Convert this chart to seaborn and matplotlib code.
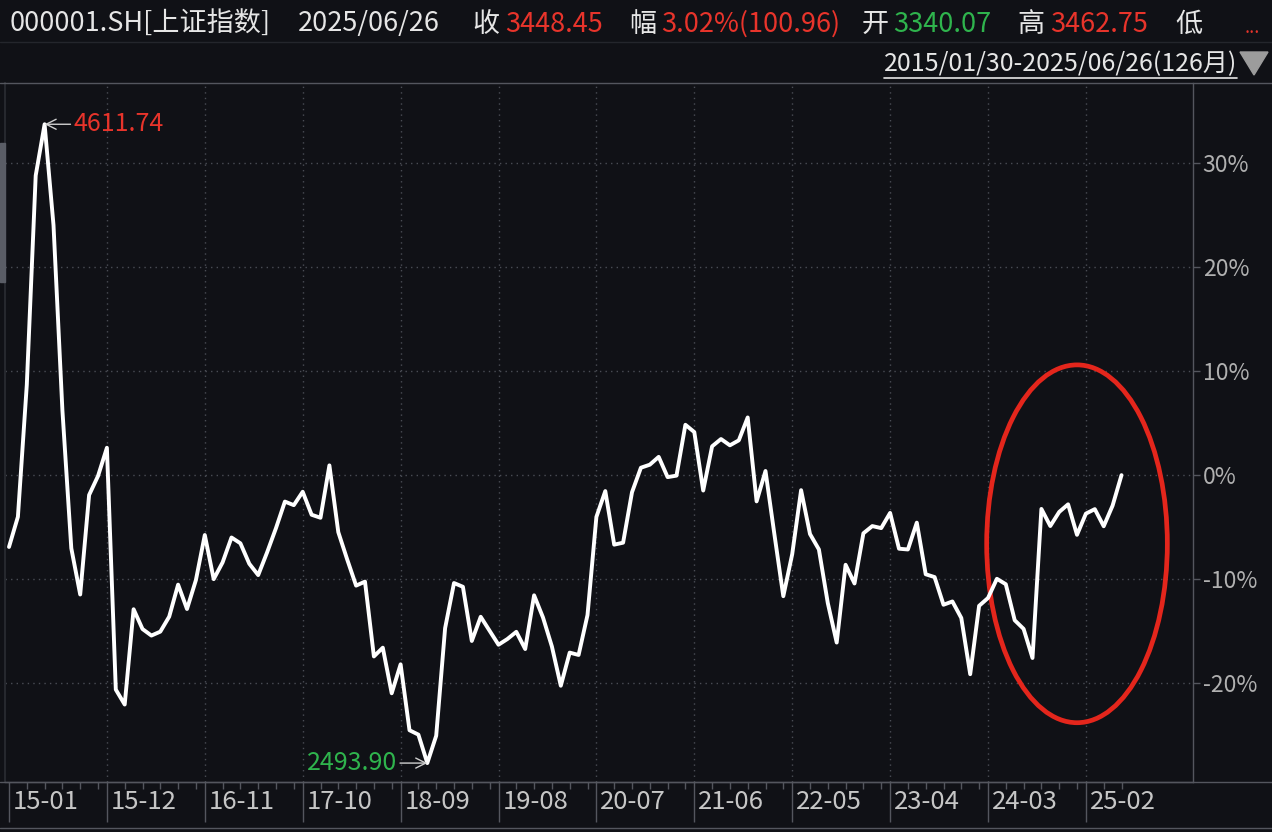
import numpy as np
import pandas as pd
import matplotlib
matplotlib.use('Agg')
import matplotlib.pyplot as plt
import seaborn as sns
from matplotlib.patches import Ellipse, Rectangle, Polygon
from matplotlib.lines import Line2D
from matplotlib.transforms import ScaledTranslation

# monthly closes of 000001.SH, 2015-01 .. 2025-06
close = [
    3210.36, 3310.30, 3747.90, 4441.66, 4611.74, 4277.22, 3663.73, 3205.99, 3052.78, 3382.56, 3445.41, 3539.18,
    2737.60, 2687.98, 3003.92, 2938.32, 2916.62, 2929.61, 2979.34, 3085.49, 3004.70, 3100.49, 3250.03, 3103.64,
    3159.17, 3241.73, 3222.51, 3154.66, 3117.18, 3192.43, 3273.03, 3360.81, 3348.94, 3393.34, 3317.19, 3307.17,
    3480.83, 3259.41, 3168.90, 3082.23, 3095.47, 2847.42, 2876.40, 2725.25, 2821.35, 2602.78, 2588.19, 2493.90,
    2584.57, 2940.95, 3090.76, 3078.34, 2898.70, 2978.88, 2932.51, 2886.24, 2905.19, 2929.06, 2871.98, 3050.12,
    2976.53, 2880.30, 2750.30, 2860.08, 2852.35, 2984.67, 3310.01, 3395.68, 3218.05, 3224.53, 3391.76, 3473.07,
    3483.07, 3509.08, 3441.91, 3446.86, 3615.48, 3591.20, 3397.36, 3543.94, 3568.17, 3547.34, 3563.89, 3639.78,
    3361.44, 3462.31, 3252.20, 3047.06, 3186.43, 3398.62, 3253.24, 3202.14, 3024.39, 2893.48, 3151.34, 3089.26,
    3255.67, 3279.61, 3272.86, 3323.27, 3204.56, 3202.06, 3291.04, 3119.88, 3110.48, 3018.77, 3029.67, 2974.93,
    2788.55, 3015.17, 3041.17, 3104.82, 3086.81, 2967.40, 2938.75, 2842.21, 3336.50, 3279.82, 3326.46, 3351.76,
    3250.60, 3320.90, 3335.75, 3279.03, 3347.49, 3448.45,
]
x_labels = ['15-01', '15-12', '16-11', '17-10', '18-09', '19-08', '20-07', '21-06',
            '22-05', '23-04', '24-03', '25-02']
y_ticks = [-20, -10, 0, 10, 20, 30]

header = [  # (text, color, x pixel)
    ('000001.SH[上证指数]', 'w', 10), ('2025/06/26', 'w', 298),
    ('收', 'w', 472), ('3448.45', 'r', 505),
    ('幅', 'w', 629), ('3.02%(100.96)', 'r', 661),
    ('开', 'w', 862), ('3340.07', 'g', 893),
    ('高', 'w', 1017), ('3462.75', 'r', 1050),
    ('低', 'w', 1175),
]
date_range = '2015/01/30-2025/06/26(126月)'

BG = '#101116'
RED = '#e8342b'
GREEN = '#2fb44d'
WHITE = '#e6e6e6'
GRID = '#4a4d55'
AXC = '#54565e'
colors = {'w': WHITE, 'r': RED, 'g': GREEN}

df = pd.DataFrame({'i': np.arange(len(close)), 'close': close})
df['pct'] = (df['close'] / close[-1] - 1) * 100

sns.set_theme(style='dark', rc={'axes.facecolor': BG, 'figure.facecolor': BG})
plt.rcParams['font.family'] = ['Noto Sans CJK SC', 'DejaVu Sans']

W, H = 1272, 832
fig = plt.figure(figsize=(W / 100, H / 100), dpi=100)
ax = fig.add_axes([5 / W, 1 - 782 / H, 1188 / W, (782 - 83) / H])

sns.lineplot(data=df, x='i', y='pct', ax=ax, color='white', linewidth=2.8)

# 9 px to first month, 8.9 px per month
ax.set_xlim(-4 / 8.9, (1193 - 9) / 8.9)
ax.set_ylim(-29.5, 37.7)

xpos = [(int(s[:2]) - 15) * 12 + int(s[3:]) - 1 for s in x_labels]
ax.set_xticks(xpos)
ax.set_xticklabels(x_labels)
ax.set_xticks([p + k for p in xpos for k in (2, 4, 6, 8, 10) if p + k < len(close)], minor=True)
ax.tick_params(axis='x', which='major', bottom=True, length=29, width=1, color=AXC,
               pad=-24, labelsize=18.5, labelcolor='#c6c6c6')
ax.tick_params(axis='x', which='minor', bottom=True, length=5, width=1, color=AXC)
for lab in ax.get_xticklabels():
    lab.set_ha('left')
    lab.set_transform(lab.get_transform() + ScaledTranslation(4 / 100, 0, fig.dpi_scale_trans))

ax.yaxis.tick_right()
ax.set_yticks(y_ticks)
ax.set_yticklabels([f'{v}%' for v in y_ticks])
ax.tick_params(axis='y', right=True, left=False, length=5, width=1, color=AXC,
               pad=2, labelsize=16.5, labelcolor='#b0b0b0')
ax.set_xlabel('')
ax.set_ylabel('')

ax.grid(True, which='major', color=GRID, linestyle=(0, (1, 3)), linewidth=1)
ax.get_xgridlines()[0].set_visible(False)
ax.spines['top'].set_visible(False)
ax.spines['left'].set_color('#26282e')
ax.spines['left'].set_linewidth(1.5)
for side in ['right', 'bottom']:
    ax.spines[side].set_color(AXC)
    ax.spines[side].set_linewidth(1)

imax = df['close'].idxmax()
imin = df['close'].idxmin()
arrow = dict(arrowstyle='->', color='#d0d0d0', lw=1, shrinkA=0, shrinkB=0)
ax.annotate(f"{df['close'][imax]:.2f}", xy=(imax, df['pct'][imax]), xytext=(21, 0),
            textcoords='offset points', color=RED, fontsize=18, ha='left', va='center',
            arrowprops=arrow)
ax.annotate(f"{df['close'][imin]:.2f}", xy=(imin, df['pct'][imin]), xytext=(-22, 0),
            textcoords='offset points', color=GREEN, fontsize=18, ha='right', va='center',
            arrowprops=arrow)

ax.add_patch(Ellipse((120.0, -6.6), 20.3, 34.4, fill=False, edgecolor='#e4261c', linewidth=3.4))

# header
for txt, c, xp in header:
    fig.text(xp / W, 1 - 24 / H, txt, color=colors[c], fontsize=19.5, va='center', ha='left')
fig.text(1245 / W, 1 - 28 / H, '...', color=RED, fontsize=13, va='center', ha='left')
t = fig.text(1237 / W, 1 - 64 / H, date_range, color=WHITE, fontsize=18, va='center', ha='right')
fig.add_artist(Polygon([[1240 / W, 1 - 52 / H], [1268 / W, 1 - 52 / H], [1254 / W, 1 - 75 / H]],
                       closed=True, color='#9c9c9c', transform=fig.transFigure))
fig.canvas.draw()
bb = t.get_window_extent().transformed(fig.transFigure.inverted())
fig.add_artist(Line2D([bb.x0, bb.x1], [1 - 78 / H] * 2, color=WHITE, lw=1.2))

for yp in (42, 83, 782, 828):
    fig.add_artist(Line2D([0, 1], [1 - yp / H] * 2, color=AXC if yp != 42 else '#24262c', lw=1))
fig.add_artist(Rectangle((0, 1 - 282 / H), 5 / W, 139 / H, color='#5a5d66', transform=fig.transFigure))

fig.savefig('out.png', dpi=100, facecolor=BG)
